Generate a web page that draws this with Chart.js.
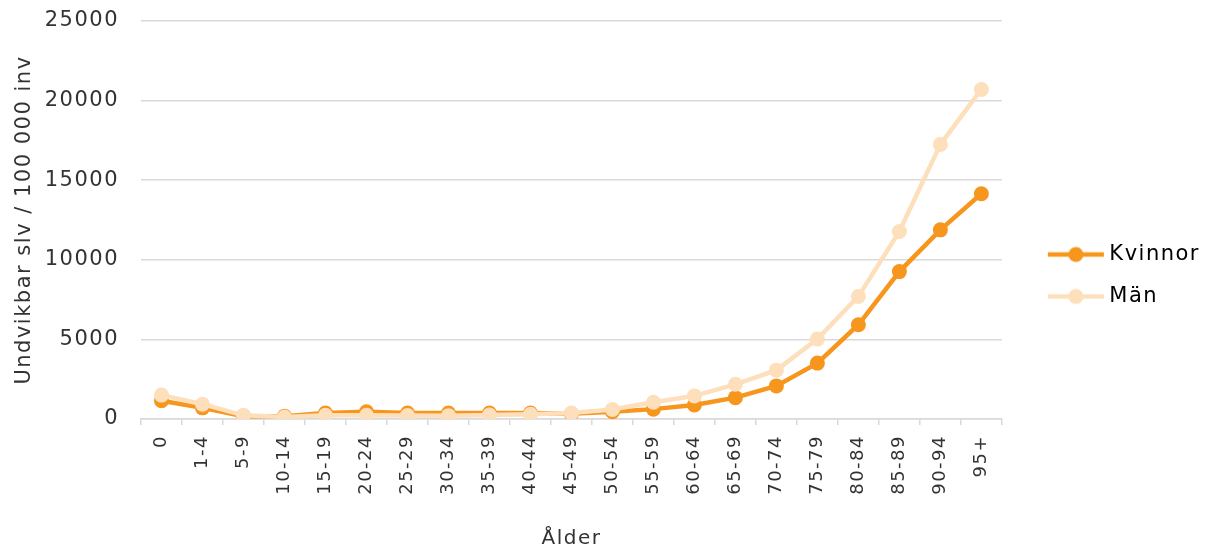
<!DOCTYPE html>
<html>
<head>
<meta charset="utf-8">
<script src="https://cdn.jsdelivr.net/npm/chart.js@4"></script>
<style>
  html, body { margin: 0; padding: 0; background: #fff; }
  #wrap { width: 1217px; height: 551px; }
</style>
</head>
<body>
<div id="wrap"><canvas id="slvChart" width="1217" height="551"></canvas></div>
<script>
const ageGroups = ['0', '1-4', '5-9', '10-14', '15-19', '20-24', '25-29', '30-34', '35-39', '40-44',
  '45-49', '50-54', '55-59', '60-64', '65-69', '70-74', '75-79', '80-84', '85-89', '90-94', '95+'];
const kvinnor = [1150, 700, 180, 180, 380, 450, 370, 370, 370, 370,
  330, 460, 620, 880, 1340, 2080, 3510, 5920, 9260, 11880, 14150];
const man = [1500, 930, 230, 130, 240, 230, 220, 210, 250, 300,
  380, 600, 1050, 1450, 2180, 3070, 5020, 7700, 11780, 17250, 20700];
const yMin = 0;
const yMax = 25000;
const yStep = 5000;

const seriesNames = ['Kvinnor', 'Män'];
const colors = ['#F7961D', '#FDDFBC'];
const font = 'DejaVu Sans';
const textColor = '#333333';
const gridColor = '#D9D9D9';

// legend marker: short line with a dot, drawn a bit right of the box centre
function legendIcon(color) {
  const c = document.createElement('canvas');
  c.width = 92;
  c.height = 18;
  const g = c.getContext('2d');
  g.strokeStyle = color;
  g.lineWidth = 4.5;
  g.beginPath();
  g.moveTo(33, 9);
  g.lineTo(89, 9);
  g.stroke();
  g.fillStyle = color;
  g.beginPath();
  g.arc(61, 9, 7.5, 0, Math.PI * 2);
  g.fill();
  return c;
}
const icons = colors.map(legendIcon);

// the reference text is set a little wider than DejaVu
const spacing = {
  id: 'spacing',
  beforeLayout(chart) { chart.ctx.letterSpacing = '1.5px'; },
  beforeDraw(chart) { chart.ctx.letterSpacing = '1.5px'; }
};

const ctx = document.getElementById('slvChart').getContext('2d');
new Chart(ctx, {
  type: 'line',
  data: {
    labels: ageGroups,
    datasets: [
      {
        label: seriesNames[0],
        data: kvinnor,
        borderColor: colors[0],
        backgroundColor: colors[0],
        borderWidth: 4.5,
        pointRadius: 7.5,
        pointBorderWidth: 0,
        order: 1
      },
      {
        label: seriesNames[1],
        data: man,
        borderColor: colors[1],
        backgroundColor: colors[1],
        borderWidth: 4.5,
        pointRadius: 7.5,
        pointBorderWidth: 0,
        order: 0
      }
    ]
  },
  plugins: [spacing],
  options: {
    responsive: false,
    animation: false,
    layout: { padding: { top: 0, right: 7, left: 12, bottom: 0 } },
    plugins: {
      tooltip: { enabled: false },
      legend: {
        position: 'right',
        labels: {
          usePointStyle: true,
          pointStyleWidth: 76,
          padding: 21,
          color: '#262626',
          font: { family: font, size: 21 },
          generateLabels: chart => chart.data.datasets.map((ds, i) => ({
            text: ds.label,
            pointStyle: icons[i],
            fillStyle: colors[i],
            strokeStyle: colors[i],
            lineWidth: 0,
            hidden: false,
            datasetIndex: i
          }))
        }
      }
    },
    scales: {
      x: {
        offset: true,
        afterFit: s => { s.height = 132; },
        grid: {
          offset: true,
          drawOnChartArea: false,
          color: gridColor,
          tickLength: 6,
          lineWidth: 1.5
        },
        border: { color: gridColor, width: 1.5 },
        ticks: {
          color: textColor,
          font: { family: font, size: 18 },
          minRotation: 90,
          maxRotation: 90,
          autoSkip: false,
          padding: 10
        },
        title: {
          display: true,
          text: 'Ålder',
          color: textColor,
          font: { family: font, size: 20 },
          padding: { top: 18, bottom: 0 }
        }
      },
      y: {
        min: yMin,
        max: yMax,
        afterFit: s => {
          s.width = 129;
          s.paddingTop = 21;
          s.paddingBottom = 12;
        },
        grid: { color: gridColor, lineWidth: 1.5, drawTicks: false },
        border: { display: false },
        ticks: {
          stepSize: yStep,
          color: textColor,
          font: { family: font, size: 21 },
          padding: 22,
          callback: v => String(v)
        },
        title: {
          display: true,
          text: 'Undvikbar slv / 100 000 inv',
          color: textColor,
          font: { family: font, size: 21 },
          padding: { top: 0, bottom: 5 }
        }
      }
    }
  }
});
</script>
</body>
</html>
